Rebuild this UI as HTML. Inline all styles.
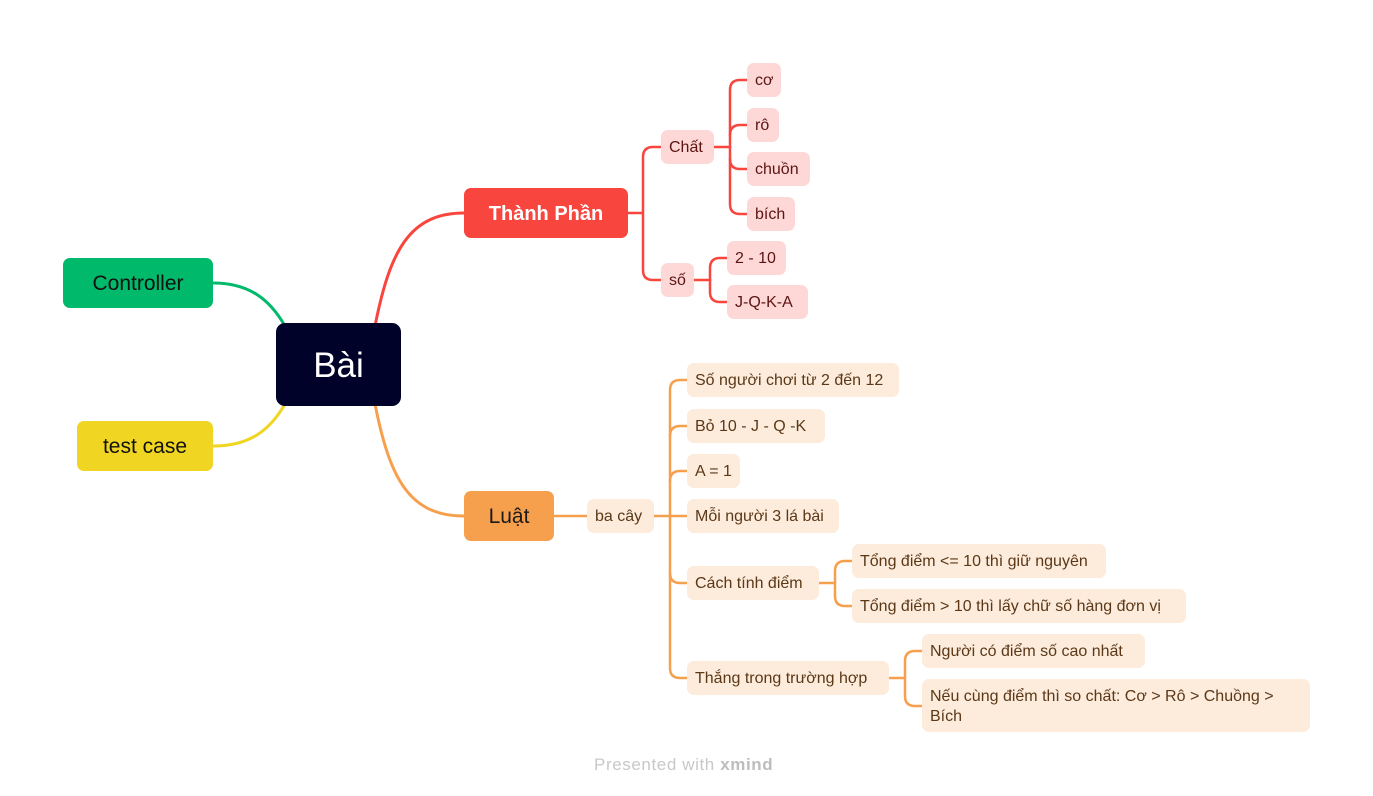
<!DOCTYPE html>
<html><head><meta charset="utf-8">
<style>
html,body{margin:0;padding:0;background:#fff;}
body{width:1373px;height:796px;position:relative;overflow:hidden;font-family:"Liberation Sans","DejaVu Sans",sans-serif;}
.n{position:absolute;box-sizing:border-box;display:flex;align-items:center;justify-content:center;white-space:nowrap;border-radius:7px;}
.r,.o{justify-content:flex-start;padding-left:8px;padding-top:2px;font-size:16px;}
.r{background:#FDD8D6;color:#5c1414;}
.o{background:#FDEBDB;color:#5a3818;}
svg{position:absolute;left:0;top:0;}
</style></head><body>
<svg width="1373" height="796" fill="none" stroke-width="3" stroke-linecap="round">
<path d="M375 326 C390 250,410 213,464 213" stroke="#F8463F"/>
<path d="M375 404 C390 480,410 516,464 516" stroke="#F6A04D"/>
<path d="M213 283 C250 283,270 300,285 326" stroke="#00B96B"/>
<path d="M213 446 C250 446,270 430,285 404" stroke="#F1D523"/>
<g stroke="#F8463F" stroke-width="2.5">
<path d="M628 213 H643"/>
<path d="M661 147 H653 Q643 147 643 157 V270 Q643 280 653 280 H661"/>
<path d="M714 147 H730"/>
<path d="M747 80 H740 Q730 80 730 90 V204 Q730 214 740 214 H747"/>
<path d="M730 135 Q730 125 740 125 H747"/>
<path d="M730 159 Q730 169 740 169 H747"/>
<path d="M694 280 H710"/>
<path d="M727 258 H720 Q710 258 710 268 V292 Q710 302 720 302 H727"/>
</g>
<g stroke="#F6A04D" stroke-width="2.5">
<path d="M554 516 H587"/>
<path d="M654 516 H670"/>
<path d="M687 380 H680 Q670 380 670 390 V668 Q670 678 680 678 H687"/>
<path d="M670 436 Q670 426 680 426 H687"/>
<path d="M670 481 Q670 471 680 471 H687"/>
<path d="M670 516 H687"/>
<path d="M670 573 Q670 583 680 583 H687"/>
<path d="M819 583 H835"/>
<path d="M852 561 H845 Q835 561 835 571 V596 Q835 606 845 606 H852"/>
<path d="M889 678 H905"/>
<path d="M922 651 H915 Q905 651 905 661 V696 Q905 706 915 706 H922"/>
</g>
</svg>
<div class="n" style="left:276px;top:323px;width:125px;height:83px;background:#000229;color:#fff;font-size:35px;border-radius:9px;padding-top:2px;">Bài</div>
<div class="n" style="left:464px;top:188px;width:164px;height:50px;background:#F8463F;color:#fff;font-size:20px;font-weight:bold;padding-top:2px;">Thành Phần</div>
<div class="n" style="left:464px;top:491px;width:90px;height:50px;background:#F6A04D;color:#1a1a1a;font-size:21px;padding-top:2px;">Luật</div>
<div class="n" style="left:63px;top:258px;width:150px;height:50px;background:#00B96B;color:#111;font-size:21px;padding-top:2px;">Controller</div>
<div class="n" style="left:77px;top:421px;width:136px;height:50px;background:#F1D523;color:#111;font-size:21px;padding-top:2px;">test case</div>

<div class="n r" style="left:661px;top:130px;width:53px;height:34px;">Chất</div>
<div class="n r" style="left:747px;top:63px;width:34px;height:34px;">cơ</div>
<div class="n r" style="left:747px;top:108px;width:32px;height:34px;">rô</div>
<div class="n r" style="left:747px;top:152px;width:63px;height:34px;">chuồn</div>
<div class="n r" style="left:747px;top:197px;width:48px;height:34px;">bích</div>
<div class="n r" style="left:661px;top:263px;width:33px;height:34px;">số</div>
<div class="n r" style="left:727px;top:241px;width:59px;height:34px;">2 - 10</div>
<div class="n r" style="left:727px;top:285px;width:81px;height:34px;">J-Q-K-A</div>

<div class="n o" style="left:587px;top:499px;width:67px;height:34px;">ba cây</div>
<div class="n o" style="left:687px;top:363px;width:212px;height:34px;">Số người chơi từ 2 đến 12</div>
<div class="n o" style="left:687px;top:409px;width:138px;height:34px;">Bỏ 10 - J - Q -K</div>
<div class="n o" style="left:687px;top:454px;width:53px;height:34px;">A = 1</div>
<div class="n o" style="left:687px;top:499px;width:152px;height:34px;">Mỗi người 3 lá bài</div>
<div class="n o" style="left:687px;top:566px;width:132px;height:34px;">Cách tính điểm</div>
<div class="n o" style="left:687px;top:661px;width:202px;height:34px;">Thắng trong trường hợp</div>
<div class="n o" style="left:852px;top:544px;width:254px;height:34px;">Tổng điểm &lt;= 10 thì giữ nguyên</div>
<div class="n o" style="left:852px;top:589px;width:334px;height:34px;">Tổng điểm &gt; 10 thì lấy chữ số hàng đơn vị</div>
<div class="n o" style="left:922px;top:634px;width:223px;height:34px;">Người có điểm số cao nhất</div>
<div class="n o" style="left:922px;top:679px;width:388px;height:53px;white-space:normal;line-height:20px;">Nếu cùng điểm thì so chất: Cơ &gt; Rô &gt; Chuồng &gt;<br>Bích</div>

<div style="position:absolute;left:594px;top:755px;width:200px;font-size:17px;letter-spacing:0.6px;color:#c8c8c8;white-space:nowrap;">Presented with <b style="color:#bdbdbd">xmind</b></div>
</body></html>
